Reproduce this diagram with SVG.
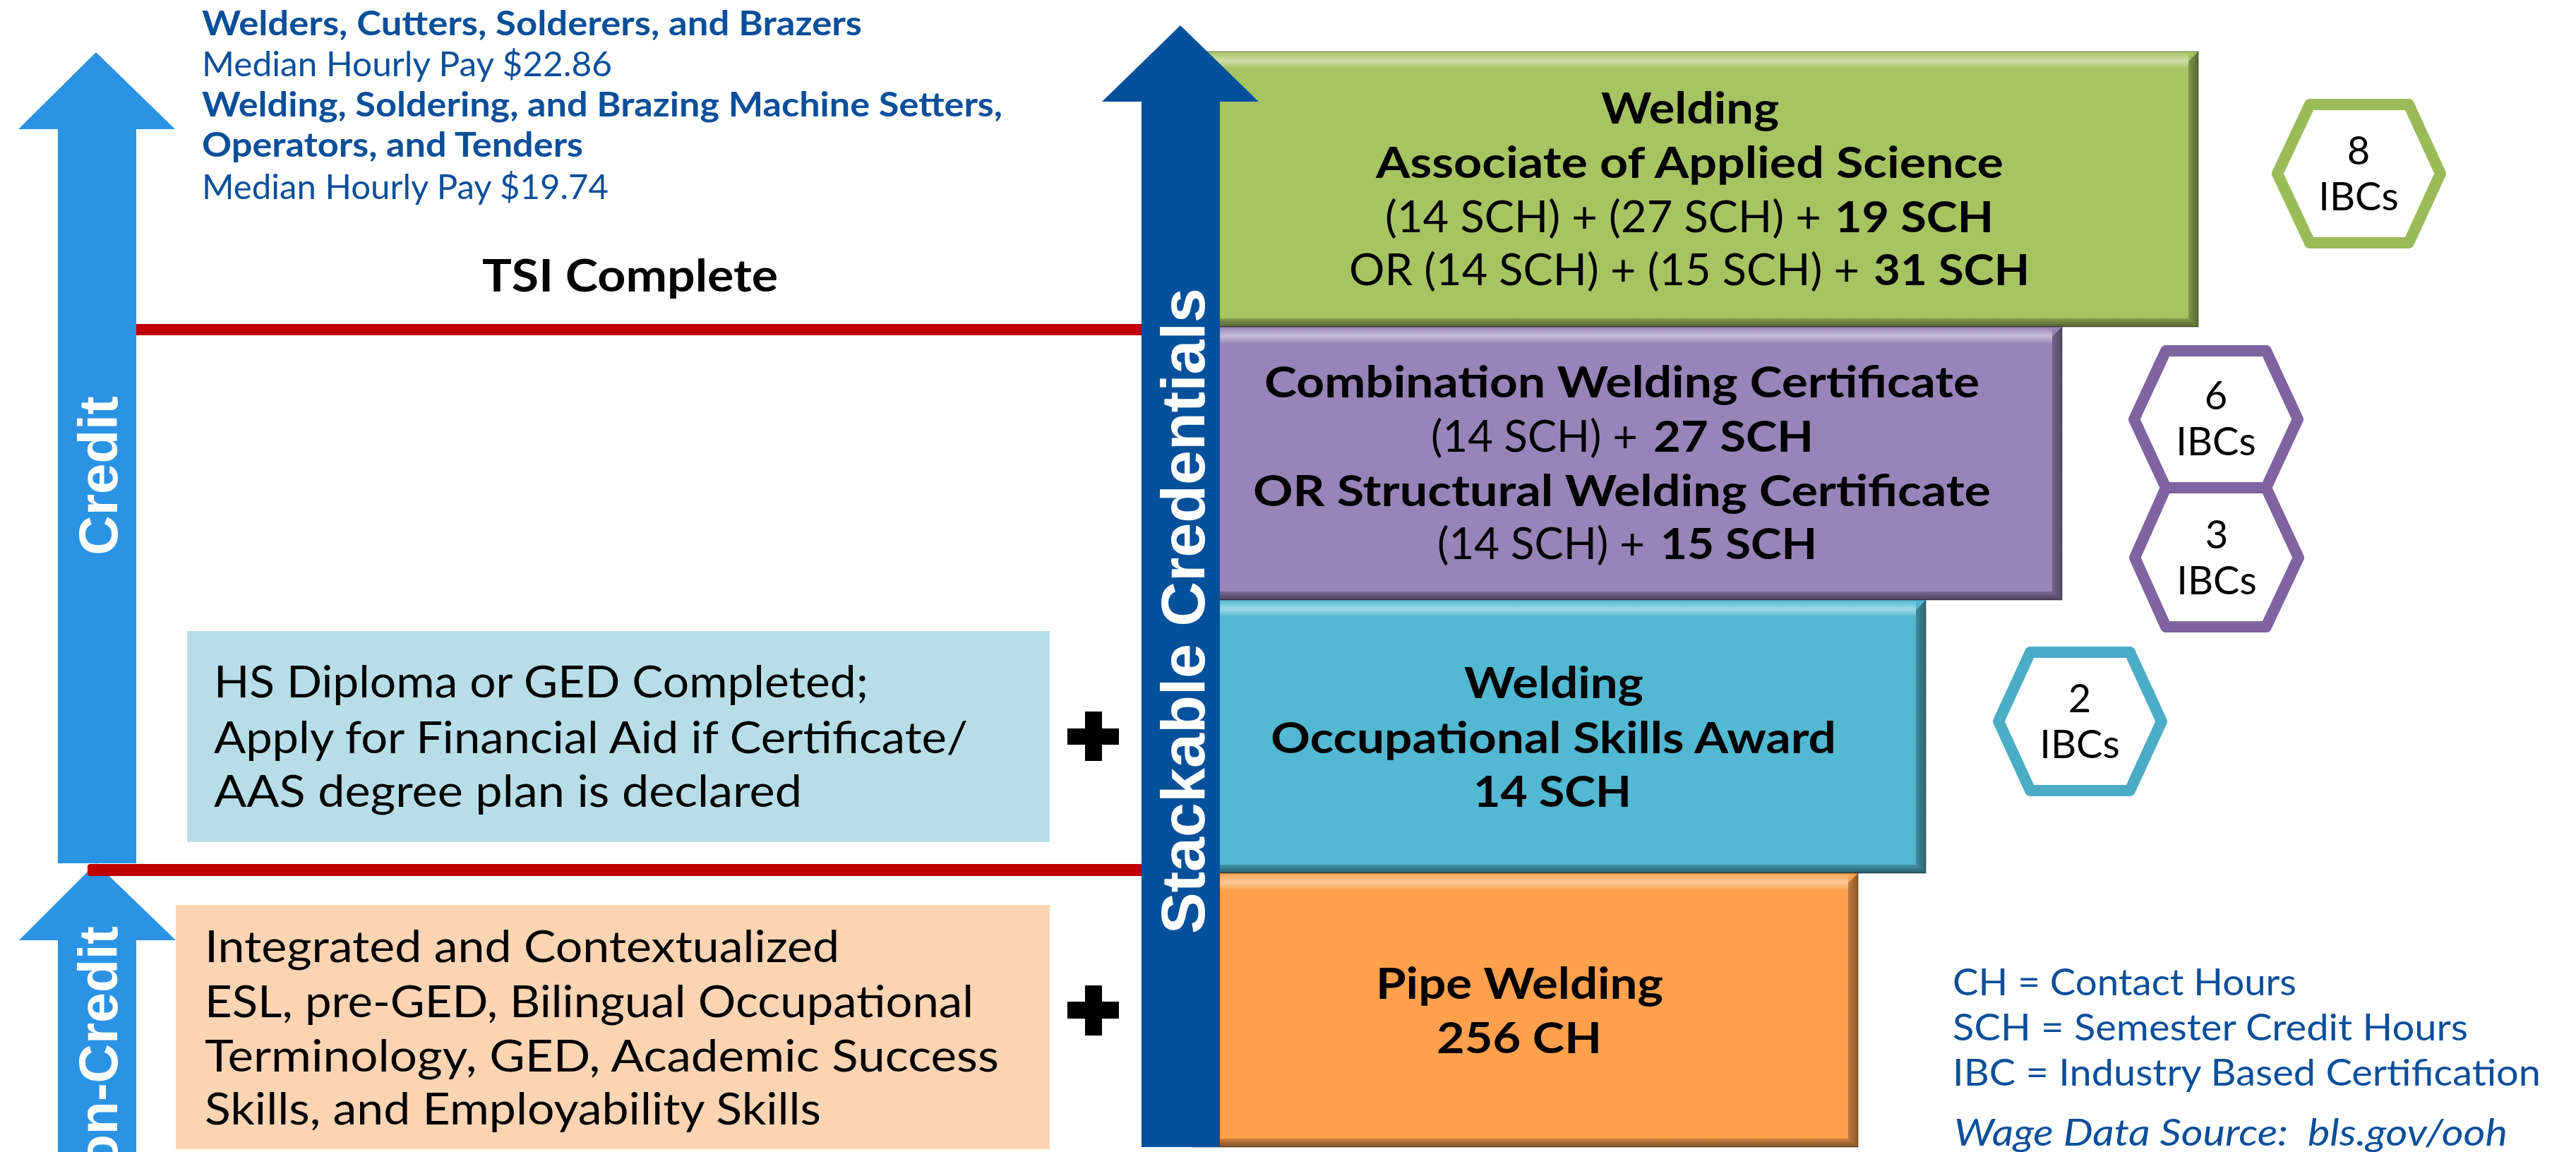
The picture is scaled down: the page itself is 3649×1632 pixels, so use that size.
<svg xmlns="http://www.w3.org/2000/svg" width="3649" height="1632" viewBox="0 0 3649 1632">
<style>
.b{font-family:Lato,"Liberation Sans",sans-serif;font-weight:700;fill:#000}
.r{font-family:Lato,"Liberation Sans",sans-serif;font-weight:400;fill:#000}
.blue{fill:#0B4F9A}
.bx{font-size:62px}
.tl{font-size:48px}
.lg{font-size:52px}
.hx{font-family:Lato,"Liberation Sans",sans-serif;font-size:56px;fill:#000;text-anchor:middle}
.hex{fill:#fff;stroke-width:16;stroke-linejoin:round}
.vt{font-family:"Liberation Sans",Arial,sans-serif;font-weight:700;fill:#fff}
.edge{fill:none;stroke:#000;stroke-opacity:.22;stroke-width:2}
</style>
<defs>
<linearGradient id="hl" x1="0" y1="0" x2="0" y2="1">
<stop offset="0" stop-color="#fff" stop-opacity="0"/>
<stop offset="0.55" stop-color="#fff" stop-opacity="0.45"/>
<stop offset="1" stop-color="#fff" stop-opacity="0"/>
</linearGradient>
<linearGradient id="shB" x1="0" y1="0" x2="0" y2="1">
<stop offset="0" stop-color="#000" stop-opacity="0.2"/>
<stop offset="1" stop-color="#000" stop-opacity="0.5"/>
</linearGradient>
<linearGradient id="shR" x1="0" y1="0" x2="1" y2="0">
<stop offset="0" stop-color="#000" stop-opacity="0.25"/>
<stop offset="1" stop-color="#000" stop-opacity="0.45"/>
</linearGradient>
</defs>
<rect width="3649" height="1632" fill="#fff"/>

<!-- left arrows -->
<g id="credit-arrow">
<path d="M136,74 L248,183 L193,183 L193,1223 L82,1223 L82,183 L26,183 Z" fill="#2B93E4"/>
<text class="vt" font-size="78" transform="translate(166,674) rotate(-90)" text-anchor="middle">Credit</text>
</g>
<g id="noncredit-arrow">
<path d="M136,1223 L249,1332 L193,1332 L193,1640 L82,1640 L82,1332 L27,1332 Z" fill="#2B93E4"/>
<text class="vt" font-size="77" transform="translate(166,1312) rotate(-90)" text-anchor="end">Non-Credit</text>
</g>

<!-- top-left wage text -->
<g id="wage-info">
<text class="b blue tl" x="286" y="50" textLength="935" lengthAdjust="spacingAndGlyphs">Welders, Cutters, Solderers, and Brazers</text>
<text class="r blue tl" x="286" y="108" textLength="581" lengthAdjust="spacingAndGlyphs">Median Hourly Pay $22.86</text>
<text class="b blue tl" x="286" y="165" textLength="1134" lengthAdjust="spacingAndGlyphs">Welding, Soldering, and Brazing Machine Setters,</text>
<text class="b blue tl" x="286" y="222" textLength="540" lengthAdjust="spacingAndGlyphs">Operators, and Tenders</text>
<text class="r blue tl" x="286" y="282" textLength="576" lengthAdjust="spacingAndGlyphs">Median Hourly Pay $19.74</text>
</g>

<g id="tsi-label">
<text class="b" font-size="64" x="683" y="413" textLength="419" lengthAdjust="spacingAndGlyphs">TSI Complete</text>
</g>

<!-- requirement boxes -->
<g id="hs-box">
<rect x="265" y="894" width="1222" height="299" fill="#B7DEE8"/>
<text class="r bx" x="303" y="988" textLength="927" lengthAdjust="spacingAndGlyphs">HS Diploma or GED Completed;</text>
<text class="r bx" x="303" y="1067" textLength="1068" lengthAdjust="spacingAndGlyphs">Apply for Financial Aid if Certificate/</text>
<text class="r bx" x="303" y="1143" textLength="833" lengthAdjust="spacingAndGlyphs">AAS degree plan is declared</text>
</g>
<g id="basic-skills-box">
<rect x="249" y="1282" width="1238" height="346" fill="#FBD4B4"/>
<text class="r bx" x="290" y="1363" textLength="899" lengthAdjust="spacingAndGlyphs">Integrated and Contextualized</text>
<text class="r bx" x="290" y="1441" textLength="1089" lengthAdjust="spacingAndGlyphs">ESL, pre-GED, Bilingual Occupational</text>
<text class="r bx" x="290" y="1518" textLength="1125" lengthAdjust="spacingAndGlyphs">Terminology, GED, Academic Success</text>
<text class="r bx" x="290" y="1593" textLength="873" lengthAdjust="spacingAndGlyphs">Skills, and Employability Skills</text>
</g>
<g id="plus-1" fill="#000">
<rect x="1537" y="1008" width="24" height="70"/>
<rect x="1512" y="1032" width="73" height="23"/>
</g>
<g id="plus-2" fill="#000">
<rect x="1537" y="1396" width="24" height="71"/>
<rect x="1512" y="1419" width="73" height="24"/>
</g>

<!-- credential boxes -->
<g id="aas-box">
<rect x="1690" y="73" width="1424" height="390" fill="#A7C462"/>
<rect x="1690" y="73" width="1410" height="24" fill="url(#hl)"/>
<polygon points="3114,73 3114,463 3100,451 3100,87" fill="url(#shR)"/>
<polygon points="1690,451 3100,451 3114,463 1690,463" fill="url(#shB)"/>
<rect class="edge" x="1690" y="73" width="1424" height="390"/>
<text class="b bx" x="2268" y="175" textLength="252" lengthAdjust="spacingAndGlyphs">Welding</text>
<text class="b bx" x="1949" y="252" textLength="889" lengthAdjust="spacingAndGlyphs">Associate of Applied Science</text>
<text class="r bx" y="329"><tspan x="1962" textLength="618" lengthAdjust="spacingAndGlyphs">(14 SCH) + (27 SCH) +</tspan><tspan class="b" x="2599" textLength="225" lengthAdjust="spacingAndGlyphs">19 SCH</tspan></text>
<text class="r bx" y="404"><tspan x="1911" textLength="723" lengthAdjust="spacingAndGlyphs">OR (14 SCH) + (15 SCH) +</tspan><tspan class="b" x="2654" textLength="221" lengthAdjust="spacingAndGlyphs">31 SCH</tspan></text>
</g>
<g id="certificate-box">
<rect x="1690" y="463" width="1231" height="387" fill="#9884B8"/>
<rect x="1690" y="463" width="1217" height="24" fill="url(#hl)"/>
<polygon points="2921,463 2921,850 2907,838 2907,477" fill="url(#shR)"/>
<polygon points="1690,838 2907,838 2921,850 1690,850" fill="url(#shB)"/>
<rect class="edge" x="1690" y="463" width="1231" height="387"/>
<text class="b bx" x="1791" y="563" textLength="1013" lengthAdjust="spacingAndGlyphs">Combination Welding Certificate</text>
<text class="r bx" y="640"><tspan x="2027" textLength="293" lengthAdjust="spacingAndGlyphs">(14 SCH) +</tspan><tspan class="b" x="2342" textLength="227" lengthAdjust="spacingAndGlyphs">27 SCH</tspan></text>
<text class="b bx" x="1775" y="717" textLength="1045" lengthAdjust="spacingAndGlyphs">OR Structural Welding Certificate</text>
<text class="r bx" y="792"><tspan x="2036" textLength="294" lengthAdjust="spacingAndGlyphs">(14 SCH) +</tspan><tspan class="b" x="2352" textLength="222" lengthAdjust="spacingAndGlyphs">15 SCH</tspan></text>
</g>
<g id="osa-box">
<rect x="1690" y="850" width="1038" height="387" fill="#53B8D1"/>
<rect x="1690" y="850" width="1024" height="24" fill="url(#hl)"/>
<polygon points="2728,850 2728,1237 2714,1225 2714,864" fill="url(#shR)"/>
<polygon points="1690,1225 2714,1225 2728,1237 1690,1237" fill="url(#shB)"/>
<rect class="edge" x="1690" y="850" width="1038" height="387"/>
<text class="b bx" x="2074" y="989" textLength="254" lengthAdjust="spacingAndGlyphs">Welding</text>
<text class="b bx" x="1800" y="1067" textLength="801" lengthAdjust="spacingAndGlyphs">Occupational Skills Award</text>
<text class="b bx" x="2087" y="1143" textLength="224" lengthAdjust="spacingAndGlyphs">14 SCH</text>
</g>
<g id="pipe-box">
<rect x="1690" y="1237" width="942" height="388" fill="#FFA04C"/>
<rect x="1690" y="1237" width="928" height="24" fill="url(#hl)"/>
<polygon points="2632,1237 2632,1625 2618,1613 2618,1251" fill="url(#shR)"/>
<polygon points="1690,1613 2618,1613 2632,1625 1690,1625" fill="url(#shB)"/>
<rect class="edge" x="1690" y="1237" width="942" height="388"/>
<text class="b bx" x="1949" y="1415" textLength="407" lengthAdjust="spacingAndGlyphs">Pipe Welding</text>
<text class="b bx" x="2035" y="1492" textLength="234" lengthAdjust="spacingAndGlyphs">256 CH</text>
</g>

<!-- dividers -->
<g id="connectors" fill="#C00000">
<rect x="193" y="459" width="1426" height="16"/>
<rect x="124" y="1224" width="1495" height="17" rx="4"/>
</g>

<g id="stackable-arrow">
<path d="M1672,36 L1783,144 L1728,144 L1728,1625 L1617,1625 L1617,144 L1561,144 Z" fill="#05509B"/>
<text class="vt" font-size="88" transform="translate(1706,1323) rotate(-90)" textLength="915" lengthAdjust="spacingAndGlyphs">Stackable Credentials</text>
</g>

<!-- IBC hexagons -->
<g id="hex-8">
<polygon class="hex" stroke="#9BBB59" points="3226,246 3272,148 3412,148 3457,246 3412,344 3272,344"/>
<text class="hx" x="3341" y="233">8</text>
<text class="hx" x="3341" y="298">IBCs</text>
</g>
<g id="hex-6">
<polygon class="hex" stroke="#8064A2" points="3023,594 3068,497 3210,497 3255,594 3210,691 3068,691"/>
<text class="hx" x="3139" y="580">6</text>
<text class="hx" x="3139" y="645">IBCs</text>
</g>
<g id="hex-3">
<polygon class="hex" stroke="#8064A2" points="3024,790 3068,691 3210,691 3256,790 3210,888 3068,888"/>
<text class="hx" x="3140" y="777">3</text>
<text class="hx" x="3140" y="842">IBCs</text>
</g>
<g id="hex-2">
<polygon class="hex" stroke="#4BACC6" points="2831,1022 2876,924 3017,924 3062,1022 3017,1120 2876,1120"/>
<text class="hx" x="2946" y="1009">2</text>
<text class="hx" x="2946" y="1074">IBCs</text>
</g>

<!-- legend -->
<g id="legend">
<text class="r blue lg" x="2766" y="1410" textLength="487" lengthAdjust="spacingAndGlyphs">CH = Contact Hours</text>
<text class="r blue lg" x="2766" y="1474" textLength="730" lengthAdjust="spacingAndGlyphs">SCH = Semester Credit Hours</text>
<text class="r blue lg" x="2766" y="1538" textLength="833" lengthAdjust="spacingAndGlyphs">IBC = Industry Based Certification</text>
<text class="r blue lg" x="2768" y="1623" font-style="italic" xml:space="preserve" textLength="784" lengthAdjust="spacingAndGlyphs">Wage Data Source:  bls.gov/ooh</text>
</g>
</svg>
